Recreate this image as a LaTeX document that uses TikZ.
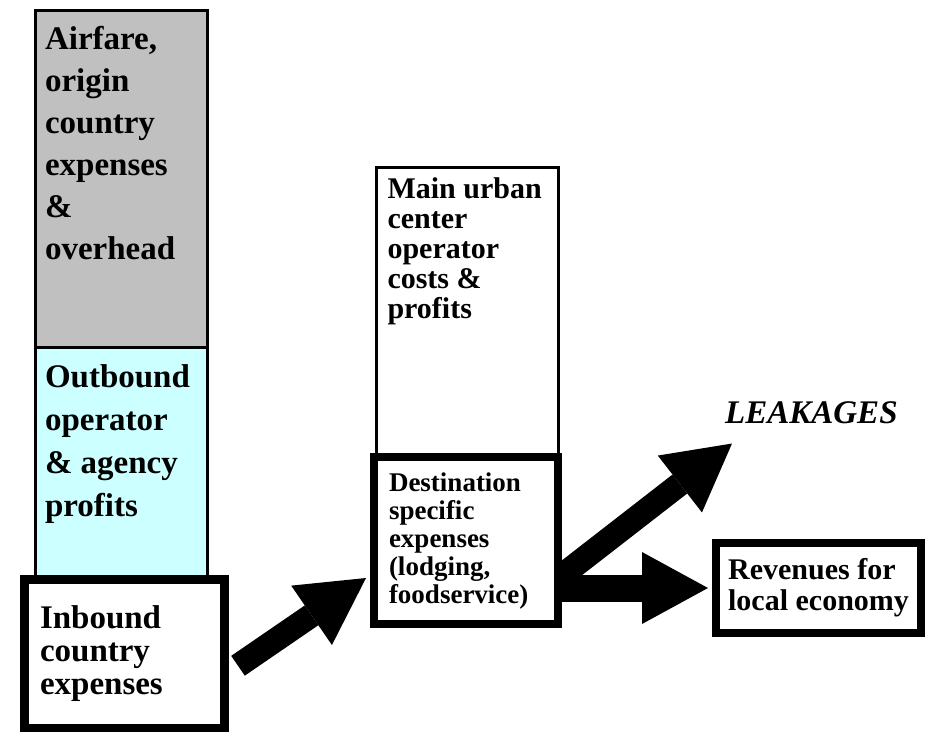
\documentclass[tikz,border=0pt]{standalone}
\usepackage{fontspec}
\setmainfont{Liberation Serif}
\usetikzlibrary{arrows.meta,backgrounds}
\definecolor{boxgray}{RGB}{192,192,192}
\definecolor{boxcyan}{RGB}{204,255,255}

\begin{document}
\begin{tikzpicture}[x=1pt,y=-1pt]
        \tikzset{
            cell/.style={draw,line width=3pt,anchor=north west,inner xsep=10pt,font=\bfseries},
            heavycell/.style={draw,line width=8pt,fill=white,align=left,font=\bfseries},
            flow/.style={line width=24pt,-{Triangle[length=66pt,width=72pt,line width=0pt]}}
        }
        \useasboundingbox (0,0) rectangle (925,731);
        \node[cell,fill=boxgray,inner ysep=16pt] (air) at (33.5,8.5)
            {\parbox[c][305pt][t]{152pt}{\fontsize{33}{42}\selectfont Airfare,\\origin\\country\\expenses\\\&\\overhead}};
        \node[cell,fill=boxcyan,inner ysep=17pt] (outb) at (33.5,346)
            {\parbox[c][195pt][t]{152pt}{\fontsize{33}{43}\selectfont Outbound\\operator\\\& agency\\profits}};
        \node[heavycell,line width=9pt,minimum width=200pt,minimum height=148.5pt,text width=169pt,
            font=\bfseries\fontsize{33}{33}\selectfont] (inb) at (124.5,653.75) {Inbound\\country\\expenses};
        \node[cell,fill=white,inner xsep=11.5pt,inner ysep=10.5pt] (main) at (374.5,165.5)
            {\parbox[c][270.5pt][t]{159pt}{\fontsize{30}{30}\selectfont Main urban\\center\\operator\\costs \&\\profits}};
        \node[heavycell,minimum width=184pt,minimum height=167pt,text width=154pt,
            font=\bfseries\fontsize{27}{28}\selectfont] (dest) at (466,540.5)
            {Destination\\specific\\expenses\\(lodging,\\foodservice)};
        \node[heavycell,minimum width=205pt,minimum height=90pt,
            font=\bfseries\fontsize{30}{31}\selectfont] (rev) at (818.5,588) {Revenues for\\local economy};
        \node[anchor=base west,inner sep=0pt,font=\bfseries\itshape\fontsize{33}{33}\selectfont] (leak) at (725,423) {LEAKAGES};
        \begin{scope}[on background layer]
            \draw[flow] ([shift={(9pt,-12pt)}]inb.east) -- ([shift={(-4pt,-37.5pt)}]dest.west);
            \draw[flow] ([yshift=-35pt]dest.east) -- ([shift={(7pt,-20pt)}]leak.south west);
            \draw[flow,line width=27pt] (dest.east |- rev.west) -- ([xshift=-4pt]rev.west);
        \end{scope}
    \end{tikzpicture}
\end{document}
